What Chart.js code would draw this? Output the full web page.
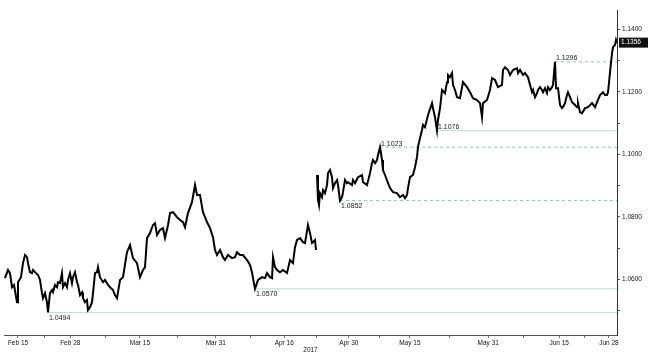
<!DOCTYPE html>
<html><head><meta charset="utf-8">
<script src="https://cdn.jsdelivr.net/npm/chart.js@4/dist/chart.umd.min.js"></script>
<style>html,body{margin:0;padding:0;background:#fff;overflow:hidden}#wrap{width:648px;height:357px}</style>
</head><body><div id="wrap"><canvas id="c" width="648" height="357"></canvas></div>
<script>
// ---- data (x = trading days since Feb 15 2017, y = EUR/USD) ----
const times = [
-2.09,-1.61,-1.29,-0.96,-0.64,-0.16,0.00,0.48,0.80,1.13,1.45,1.61,1.93,2.25,2.41,2.89,3.22,3.54,3.86,4.02,4.34,4.66,4.82,5.14,5.47,5.63,5.95,6.27,6.43,6.75,7.07,7.23,7.56,7.88,8.04,8.36,8.68,8.84,9.16,9.49,9.65,9.97,10.29,10.45,10.77,11.09,11.25,11.58,11.90,12.06,12.38,12.70,12.86,13.18,13.67,
13.99,14.47,14.79,15.27,15.59,15.92,16.40,16.88,17.52,18.01,18.49,19.13,19.61,20.10,20.42,20.74,21.22,21.70,22.03,22.35,22.83,23.31,23.63,24.12,24.44,24.92,25.56,26.05,26.53,26.85,27.33,27.97,28.46,28.78,29.26,29.74,30.39,30.87,31.35,31.67,
31.99,32.48,32.96,33.28,33.76,34.41,34.89,35.21,35.69,36.17,36.82,37.30,37.62,37.78,38.10,38.59,39.23,39.71,40.03,40.51,40.84,41.00,41.32,41.64,42.12,42.60,43.25,43.73,44.21,44.53,44.86,45.34,45.82,46.14,46.62,46.95,47.27,47.43,47.75,47.91,47.99,
48.07,48.23,48.39,48.55,48.87,49.04,49.36,49.68,49.84,50.16,50.48,50.64,50.96,51.29,51.45,51.77,52.09,52.25,52.57,52.89,53.05,53.70,53.86,54.18,54.66,55.31,55.47,56.11,56.59,56.91,57.07,57.40,57.72,57.88,58.20,58.52,58.68,59.00,59.49,59.81,60.29,60.93,61.41,61.90,62.22,62.54,62.70,63.02,63.50,63.83,64.15,64.31,64.63,64.95,65.11,
65.43,65.92,66.56,66.72,67.04,67.36,67.52,67.85,68.17,68.65,68.97,69.13,69.45,69.77,69.94,70.26,70.58,71.06,71.54,72.19,72.67,73.15,73.79,74.28,74.60,74.76,75.40,75.88,76.21,76.69,77.17,77.81,77.97,78.30,78.78,79.10,79.58,80.23,80.39,80.71,81.19,81.51,
81.99,82.32,82.64,82.80,83.12,83.44,83.60,83.92,84.24,84.41,84.73,85.05,85.21,85.53,85.85,86.01,86.33,86.50,86.82,87.14,87.46,87.62,87.94,88.26,88.42,88.75,89.07,89.55,89.87,90.03,90.35,90.68,91.16,91.64,92.28,92.77,93.09,93.57,94.05,94.37,94.69,94.86,95.18,95.50,95.66,95.98,96.14,96.30
];
const prices = [
1.0604,1.0630,1.0620,1.0575,1.0582,1.0527,1.0591,1.0607,1.0652,1.0678,1.0671,1.0652,1.0623,1.0620,1.0630,1.0620,1.0614,1.0598,1.0556,1.0540,1.0556,1.0527,1.0494,1.0556,1.0566,1.0559,1.0582,1.0575,1.0591,1.0588,1.0620,1.0575,1.0588,1.0575,1.0598,1.0620,1.0588,1.0607,1.0623,1.0591,1.0582,1.0550,1.0559,1.0540,1.0527,1.0534,1.0502,1.0511,1.0527,1.0556,1.0620,1.0623,1.0639,1.0607,1.0591,
1.0598,1.0582,1.0575,1.0566,1.0550,1.0540,1.0598,1.0607,1.0687,1.0710,1.0668,1.0652,1.0607,1.0630,1.0639,1.0732,1.0748,1.0774,1.0780,1.0742,1.0758,1.0764,1.0732,1.0774,1.0812,1.0815,1.0799,1.0790,1.0783,1.0767,1.0812,1.0847,1.0902,1.0870,1.0870,1.0815,1.0783,1.0764,1.0735,1.0694,
1.0678,1.0694,1.0671,1.0662,1.0678,1.0668,1.0671,1.0687,1.0678,1.0678,1.0662,1.0646,1.0623,1.0604,1.0570,1.0598,1.0607,1.0604,1.0620,1.0607,1.0604,1.0671,1.0639,1.0630,1.0623,1.0630,1.0620,1.0662,1.0652,1.0703,1.0726,1.0732,1.0719,1.0716,1.0774,1.0748,1.0716,1.0719,1.0726,1.0694,null,
1.0934,1.0854,1.0838,1.0876,1.0863,1.0886,1.0876,1.0902,1.0940,1.0950,1.0927,1.0892,1.0908,1.0918,1.0902,1.0852,1.0863,1.0879,1.0918,1.0908,1.0911,1.0902,1.0918,1.0908,1.0927,1.0934,1.0911,1.0902,1.0940,1.0972,1.0982,1.0972,1.0982,1.0998,1.1023,1.0982,1.0950,1.0934,1.0908,1.0892,1.0879,1.0876,1.0863,1.0870,1.0860,1.0870,1.0892,1.0927,1.0934,1.0959,1.0992,1.1024,1.1052,1.1078,1.1094,
1.1087,1.1126,1.1164,1.1148,1.1119,1.1076,1.1110,1.1148,1.1206,1.1196,1.1231,1.1254,1.1247,1.1260,1.1222,1.1206,1.1183,1.1180,1.1231,1.1215,1.1199,1.1180,1.1174,1.1164,1.1119,1.1164,1.1174,1.1206,1.1244,1.1238,1.1215,1.1222,1.1270,1.1279,1.1270,1.1254,1.1270,1.1276,1.1260,1.1270,1.1254,1.1260,
1.1247,1.1222,1.1199,1.1206,1.1183,1.1196,1.1206,1.1215,1.1206,1.1199,1.1212,1.1196,1.1215,1.1206,1.1215,1.1222,1.1296,1.1212,1.1212,1.1158,1.1148,1.1151,1.1164,1.1190,1.1199,1.1183,1.1167,1.1158,1.1151,1.1164,1.1135,1.1132,1.1148,1.1151,1.1164,1.1151,1.1167,1.1190,1.1199,1.1190,1.1190,1.1199,1.1263,1.1324,1.1343,1.1350,1.1366,1.1356
];
const tickDays = [0, 8.4, 19.6, 31.8, 42.8, 53.2, 63, 75.6, 87, 95];
const tickLabels = ['Feb 15','Feb 28','Mar 15','Mar 31','Apr 16','Apr 30','May 15','May 31','Jun 15','Jun 28'];
const yearLabel = '2017';
const yTickValues = [1.05,1.06,1.07,1.08,1.09,1.10,1.11,1.12,1.13,1.14];
const levelValues = [1.0494, 1.0570, 1.0852, 1.1023, 1.1076, 1.1296];
const levelStartDays = [4.82, 38.10, 51.77, 58.20, 67.36, 86.33];
const lastPrice = 1.1356;

// ---- styling (kept apart from data) ----
const levelDashed = [false, false, true, true, false, true];
const levelLabelAbove = [false, false, false, true, true, true];
const X_MIN = -2.25, X_MAX = 96.3, Y_MIN = 1.0422, Y_MAX = 1.1462;
const FONT = '"Liberation Sans", Arial, sans-serif';

const priceData = times.map((t, i) => ({x: t, y: prices[i]}));
const levelSets = levelValues.map((v, i) => ({
  data: [{x: levelStartDays[i], y: v}, {x: X_MAX, y: v}],
  borderColor: levelDashed[i] ? '#86c9a4' : '#b9e3d3',
  borderWidth: 1,
  borderDash: levelDashed[i] ? [3, 3] : [],
  pointRadius: 0, order: 2, tension: 0
}));

const minorDays = tickDays.slice(1).map((d, i) => (d + tickDays[i]) / 2);

const annot = {
  id: 'annot',
  afterDatasetsDraw(chart) {
    const {ctx, scales: {x, y}} = chart;
    ctx.save();
    ctx.font = '7px ' + FONT;
    ctx.fillStyle = '#222';
    ctx.textAlign = 'left';
    levelValues.forEach((v, i) => {
      const px = x.getPixelForValue(levelStartDays[i]) + 1;
      const py = y.getPixelForValue(v);
      if (levelLabelAbove[i]) { ctx.textBaseline = 'bottom'; ctx.fillText(v.toFixed(4), px, py); }
      else { ctx.textBaseline = 'top'; ctx.fillText(v.toFixed(4), px, py + 2); }
    });
    const py = y.getPixelForValue(lastPrice);
    const left = chart.chartArea.right + 2;
    ctx.fillStyle = '#111';
    ctx.fillRect(left, py - 5.5, 648 - left, 10);
    ctx.fillStyle = '#fff';
    ctx.font = '6.5px ' + FONT;
    ctx.textBaseline = 'middle';
    ctx.fillText(lastPrice.toFixed(4), left + 2, py - 0.5);
    ctx.restore();
  }
};

new Chart(document.getElementById('c'), {
  type: 'line',
  data: {
    datasets: [
      ...levelSets,
      {data: priceData, borderColor: '#000', borderWidth: 2, pointRadius: 0, tension: 0, spanGaps: false, order: 1}
    ]
  },
  options: {
    responsive: false, animation: false, devicePixelRatio: 1,
    layout: {padding: {top: 10, left: 4, right: 0, bottom: 0}},
    plugins: {legend: {display: false}, tooltip: {enabled: false}},
    scales: {
      x: {
        type: 'linear', min: X_MIN, max: X_MAX,
        afterBuildTicks(s) {
          s.ticks = tickDays.concat(minorDays).sort((a, b) => a - b).map(v => ({value: v}));
        },
        afterFit(s) { s.height = 22; },
        ticks: {
          autoSkip: false, maxRotation: 0, padding: 1, color: '#111',
          font: {size: 6.5, family: FONT},
          callback(v) { const i = tickDays.indexOf(v); return i >= 0 ? tickLabels[i] : ''; }
        },
        grid: {drawOnChartArea: false, drawTicks: true, tickLength: 3, color: '#777'},
        border: {display: true, color: '#555', width: 1},
        title: {display: true, text: yearLabel, color: '#111', font: {size: 6.5, family: FONT}, padding: {top: 0, bottom: 3}}
      },
      y: {
        type: 'linear', position: 'right', min: Y_MIN, max: Y_MAX,
        afterBuildTicks(s) { s.ticks = yTickValues.map(v => ({value: v})); },
        afterFit(s) { s.width = 31; },
        ticks: {
          padding: 2, color: '#111', font: {size: 6.5, family: FONT},
          callback(v) { return Math.round(v * 100) % 2 === 0 ? v.toFixed(4) : ''; }
        },
        grid: {drawOnChartArea: false, drawTicks: true, tickLength: 3, color: '#555'},
        border: {display: true, color: '#333', width: 1}
      }
    }
  },
  plugins: [annot]
});
</script>
</body></html>
